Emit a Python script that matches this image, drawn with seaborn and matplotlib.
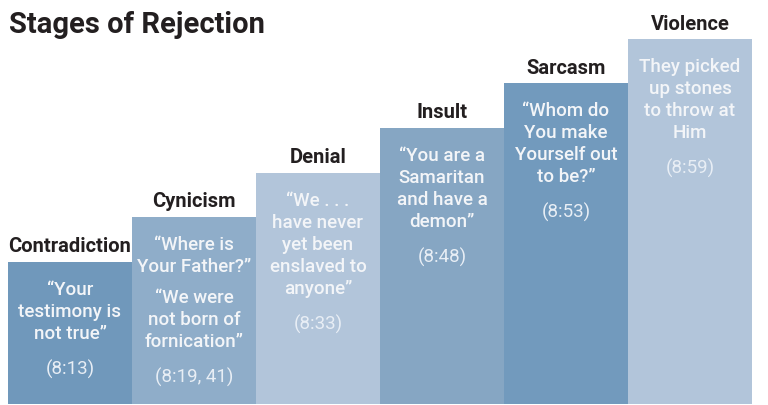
import matplotlib
matplotlib.use("Agg")
import matplotlib.pyplot as plt
import seaborn as sns
import pandas as pd

# stage names and step heights (pixels above the baseline)
stages = ["Contradiction", "Cynicism", "Denial", "Insult", "Sarcasm", "Violence"]
heights = [142, 187, 231, 276, 321, 365]
bar_colors = ["#7098bb", "#8fadc9", "#b2c5da", "#86a6c3", "#729abd", "#b2c5da"]

# quote blocks shown inside each bar
quotes = [
    [["\u201cYour", "testimony is", "not true\u201d"]],
    [["\u201cWhere is", "Your Father?\u201d"], ["\u201cWe were", "not born of", "fornication\u201d"]],
    [["\u201cWe . . .", "have never", "yet been", "enslaved to", "anyone\u201d"]],
    [["\u201cYou are a", "Samaritan", "and have a", "demon\u201d"]],
    [["\u201cWhom do", "You make", "Yourself out", "to be?\u201d"]],
    [["They picked", "up stones", "to throw at", "Him"]],
]
refs = ["(8:13)", "(8:19, 41)", "(8:33)", "(8:48)", "(8:53)", "(8:59)"]

df = pd.DataFrame({"stage": stages, "height": heights})

sns.set_theme(style="white")
plt.rcParams["font.family"] = ["Roboto", "DejaVu Sans"]

fig = plt.figure(figsize=(7.68, 4.06), dpi=100)
ax = fig.add_axes([8 / 768, 0, 744 / 768, 1])
sns.barplot(data=df, x="stage", y="height", hue="stage", palette=bar_colors,
            width=1.0, saturation=1, legend=False, ax=ax, linewidth=0)
ax.set_xlim(-0.5, 5.5)
ax.set_ylim(-1, 405)
ax.axis("off")

txt_color = "#f3f5f8"
for i, (stage, h) in enumerate(zip(stages, heights)):
    ax.text(i, h + 16, stage, ha="center", va="center", fontsize=14.5,
            fontweight="bold", color="#231f20")
    y = h - 27
    for b, block in enumerate(quotes[i]):
        if b > 0:
            y -= 9
        for line in block:
            ax.text(i, y, line, ha="center", va="center", fontsize=13.5,
                    fontweight="medium", color=txt_color)
            y -= 22
    y -= 13
    ax.text(i, y, refs[i], ha="center", va="center", fontsize=13.5,
            fontweight="normal", color="#e8eef5")

fig.text(9 / 768, 1 - 25 / 406, "Stages of Rejection", ha="left", va="center",
         fontsize=21, fontweight="bold", color="#231f20")

fig.savefig("out.png", dpi=100)
